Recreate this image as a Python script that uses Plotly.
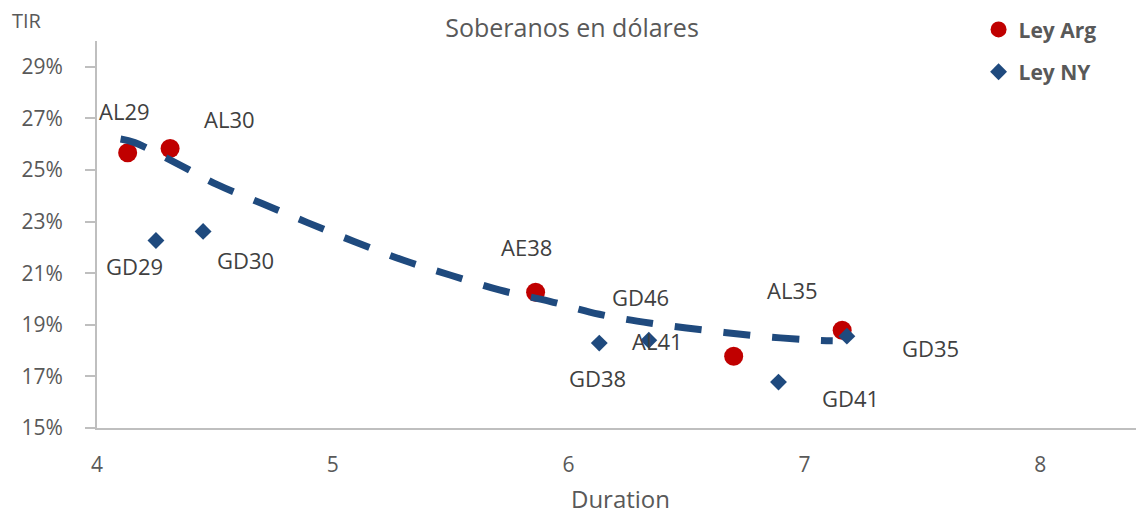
import plotly.graph_objects as go

# Bonos ley argentina
arg_names = ["AL29", "AL30", "AE38", "AL41", "AL35"]
arg_dur = [4.13, 4.31, 5.86, 6.70, 7.16]
arg_tir = [25.67, 25.83, 20.26, 17.78, 18.79]

# Bonos ley NY
ny_names = ["GD29", "GD30", "GD38", "GD46", "GD41", "GD35"]
ny_dur = [4.25, 4.45, 6.13, 6.34, 6.89, 7.18]
ny_tir = [22.27, 22.62, 18.29, 18.40, 16.78, 18.56]

# linea de tendencia
trend_x = [4.10, 4.16, 4.34, 4.51, 4.70, 4.89, 5.09, 5.30, 5.50, 5.71,
           5.92, 6.13, 6.35, 6.58, 6.81, 7.05, 7.12]
trend_y = [26.20, 26.06, 25.25, 24.43, 23.70, 22.97, 22.23, 21.50, 20.92, 20.34,
           19.91, 19.41, 19.06, 18.79, 18.56, 18.40, 18.38]

y_ticks = [15, 17, 19, 21, 23, 25, 27, 29]
y_labels = [f"{v}%" for v in y_ticks]
x_ticks = [4, 5, 6, 7, 8]

RED = "#C00000"
BLUE = "#1F4A7E"
GRAY = "#595959"
LBL = "#404040"
FONT = "Open Sans"

fig = go.Figure()

fig.add_trace(go.Scatter(
    x=arg_dur, y=arg_tir, mode="markers", name="Ley Arg",
    legendgroup="arg",
    marker=dict(symbol="circle", size=19, color=RED),
))
fig.add_trace(go.Scatter(
    x=ny_dur, y=ny_tir, mode="markers", name="Ley NY",
    legendgroup="ny",
    marker=dict(symbol="diamond", size=13, color=BLUE),
))
fig.add_trace(go.Scatter(
    x=trend_x, y=trend_y, mode="lines", showlegend=False,
    line=dict(color=BLUE, width=7, dash="27px,22px", shape="spline"),
    hoverinfo="skip",
))

# etiquetas de cada bono (desplazamiento en px respecto del punto)
arg_shift = [(-3, 42), (59, 30), (-9, 45), (-76, 15), (-50, 40)]
ny_shift = [(-21, -26), (42, -29), (-2, -35), (-8, 43), (72, -16), (84, -12)]

for names, xs, ys, shifts in [(arg_names, arg_dur, arg_tir, arg_shift),
                              (ny_names, ny_dur, ny_tir, ny_shift)]:
    for n, x, y, (dx, dy) in zip(names, xs, ys, shifts):
        fig.add_annotation(
            x=x, y=y, text=n, showarrow=False, xshift=dx, yshift=dy,
            font=dict(family=FONT, size=22, color=LBL),
        )

fig.add_annotation(
    xref="paper", yref="paper", x=-0.083, y=1.052, xanchor="left", yanchor="middle",
    text="TIR", showarrow=False, font=dict(family=FONT, size=20, color=GRAY),
)

# la pagina agrega 8px de margen al body: la figura se achica en esa medida
fig.update_layout(
    width=1136, height=511,
    margin=dict(l=89, r=0, t=33, b=91, autoexpand=False),
    paper_bgcolor="white", plot_bgcolor="white",
    title=dict(text="Soberanos en dólares", x=0.4965, xanchor="center",
               y=0.96, yanchor="middle",
               font=dict(family=FONT, size=25, color=GRAY)),
    legend=dict(x=0.842, y=1.082, xanchor="left", yanchor="top",
                traceorder="grouped", tracegroupgap=12,
                font=dict(family=FONT, size=21, color=GRAY, weight="bold"),
                bgcolor="rgba(0,0,0,0)"),
    xaxis=dict(range=[4, 8.44], tickvals=x_ticks, showgrid=False, zeroline=False,
               showline=True, linecolor="#BFBFBF", linewidth=2, ticks="",
               ticklabelstandoff=17,
               tickfont=dict(family=FONT, size=21, color=GRAY),
               title=dict(text="Duration", standoff=14,
                          font=dict(family=FONT, size=24, color=GRAY))),
    yaxis=dict(range=[15, 30], tickvals=y_ticks, ticktext=y_labels, showgrid=False,
               zeroline=False, showline=True, linecolor="#BFBFBF", linewidth=2,
               ticks="outside", ticklen=10, tickcolor="#BFBFBF", tickwidth=2,
               ticklabelstandoff=18,
               tickfont=dict(family=FONT, size=21, color=GRAY)),
)

fig.write_html("out.html")
